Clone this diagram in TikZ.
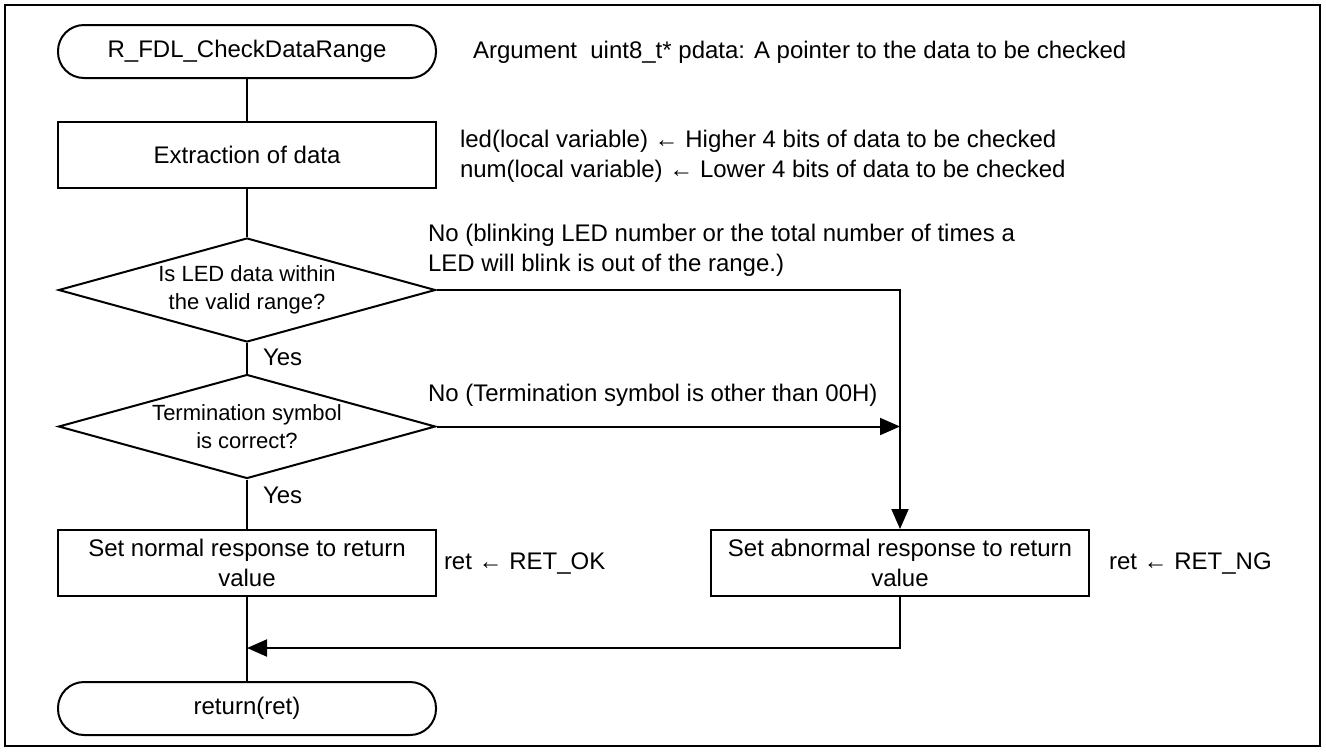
\documentclass[tikz,border=0pt]{standalone}
\usepackage{fontspec}
\setmainfont{Liberation Sans}
\usetikzlibrary{shapes.geometric,arrows.meta,positioning}
\newcommand{\Txt}{\fontsize{12}{15}\selectfont}

\begin{document}
\begin{tikzpicture}[x=0.5pt, y=-0.5pt, line width=1pt,
	txt/.style={font=\Txt, inner sep=0pt},
	term/.style={draw, rounded corners=13pt, minimum width=189pt, minimum height=26.5pt, txt},
	proc/.style={draw, minimum width=189pt, minimum height=33pt, align=center, txt},
	decision/.style={draw, diamond, minimum width=188.5pt, minimum height=52pt, inner sep=0pt},
	dtext/.style={font=\fontsize{11}{14}\selectfont, align=center, inner sep=0pt},
	note/.style={anchor=west, align=left, txt},
	arr/.style={-{Triangle[length=10pt, width=8.5pt]}}]
\useasboundingbox (0,0) rectangle (1326,751);
\draw[line width=1.2pt] (5,5) rectangle (1320,746);

	\node[term] (start) at (247,51.5) {R\_FDL\_CheckDataRange};
	\node[proc] (extract) at (247,155) {Extraction of data};
	\node[decision] (chkled) at (247,290) {};
	\node[dtext] (chkledtxt) at (chkled) {Is LED data within\\the valid range?};
	\node[decision] (chkend) at (247,426.5) {};
	\node[dtext] (chkendtxt) at (chkend) {Termination symbol\\is correct?};
	\node[proc] (setok) at (247,563) {Set normal response to return\\value};
	\node[proc] (setng) at (900,563) {Set abnormal response to return\\value};
	\node[term] (ret) at (247,708.5) {return(ret)};
	
	\node[note] (arg) at (472,52) {Argument\ \ uint8\_t* pdata: A pointer to the data to be checked};
	\node[note] (localvar) at (459,156) {led(local variable) ← Higher 4 bits of data to be checked\\num(local variable) ← Lower 4 bits of data to be checked};
	\node[note] (noled) at (427,250) {No (blinking LED number or the total number of times a\\LED will blink is out of the range.)};
	\node[note] (noend) at (427,395) {No (Termination symbol is other than 00H)};
	\node[note] (yesled) at (262,357) {Yes};
	\node[note] (yesend) at (262,495) {Yes};
	\node[note] (retok) at (443,563) {ret ← RET\_OK};
	\node[note] (retng) at (1108,563) {ret ← RET\_NG};
	
	\coordinate (merge) at (247,648);
	
	\draw (start) -- (extract);
	\draw (extract) -- (chkled);
	\draw (chkled) -- (chkend);
	\draw (chkend) -- (setok);
	\draw (setok) -- (ret);
	
	\draw[arr] (chkled.east) -- (chkled.east -| setng.north) -- (setng.north);
	\draw[arr] (chkend.east) -- (chkend.east -| setng.north);
	\draw[arr] (setng.south) |- (merge);

\end{tikzpicture}
\end{document}
